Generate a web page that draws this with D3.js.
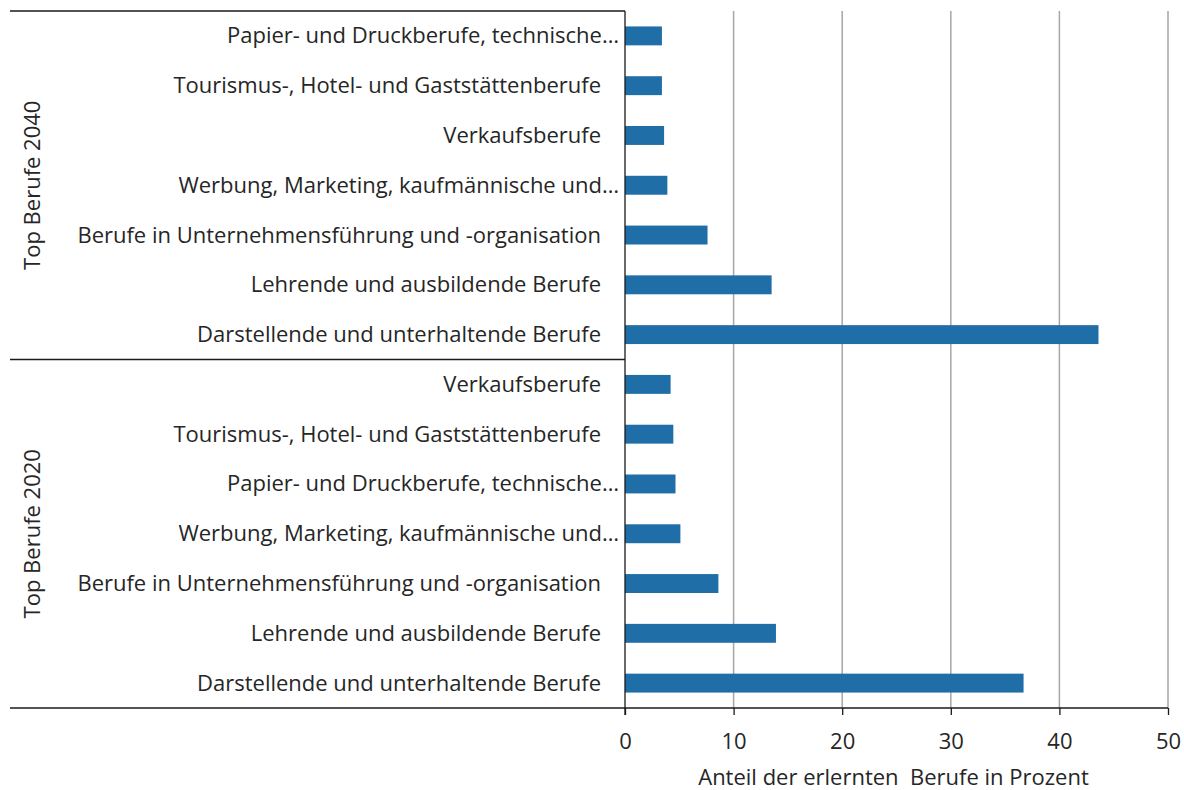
<!DOCTYPE html>
<html><head><meta charset="utf-8">
<script src="https://cdn.jsdelivr.net/npm/d3@7"></script>
<style>body{margin:0;background:#fff;} svg{display:block;} text{white-space:pre;}</style>
</head><body>
<svg id="c" width="1184" height="790"></svg>
<script>
const groups = ["Top Berufe 2040", "Top Berufe 2020"];
const labels2040 = ["Papier- und Druckberufe, technische…","Tourismus-, Hotel- und Gaststättenberufe","Verkaufsberufe","Werbung, Marketing, kaufmännische und…","Berufe in Unternehmensführung und -organisation","Lehrende und ausbildende Berufe","Darstellende und unterhaltende Berufe"];
const values2040 = [3.4, 3.4, 3.6, 3.9, 7.6, 13.5, 43.6];
const labels2020 = ["Verkaufsberufe","Tourismus-, Hotel- und Gaststättenberufe","Papier- und Druckberufe, technische…","Werbung, Marketing, kaufmännische und…","Berufe in Unternehmensführung und -organisation","Lehrende und ausbildende Berufe","Darstellende und unterhaltende Berufe"];
const values2020 = [4.2, 4.45, 4.65, 5.1, 8.6, 13.9, 36.7];
const xTicks = [0, 10, 20, 30, 40, 50];
const xTitle = "Anteil der erlernten  Berufe in Prozent";

(function(){
const rows = [];
labels2040.forEach((l,i)=>rows.push({g:0,label:l,value:values2040[i],key:"a"+i}));
labels2020.forEach((l,i)=>rows.push({g:1,label:l,value:values2020[i],key:"b"+i}));

const svg = d3.select("#c");
const pLeft = 625, pRight = 1168, pTop = 11, pBottom = 708, outerLeft = 10;
const font = "'Open Sans', 'Noto Sans', sans-serif";
const fs = "22px";
const textColor = "#262626";

const x = d3.scaleLinear().domain([0,50]).range([pLeft,pRight]);
const y = d3.scaleBand().domain(rows.map(r=>r.key)).range([pTop,pBottom]).paddingInner(0.62).paddingOuter(0.31);

svg.append("g").selectAll("line").data(xTicks.filter(t=>t>0)).join("line")
  .attr("x1",d=>x(d)).attr("x2",d=>x(d)).attr("y1",pTop).attr("y2",pBottom)
  .attr("stroke","#a6a6a6").attr("stroke-width",1.5);

svg.append("g").selectAll("rect").data(rows).join("rect")
  .attr("x",x(0)).attr("y",d=>y(d.key)).attr("width",d=>x(d.value)-x(0)).attr("height",y.bandwidth())
  .attr("fill","#1f6ea7");

svg.append("g").selectAll("text").data(rows).join("text")
  .attr("x",d=>d.label.endsWith("…")?619:601)
  .attr("y",d=>y(d.key)+y.bandwidth()/2)
  .attr("dy","0.34em").attr("text-anchor","end")
  .style("font-family",font).style("font-size",fs).attr("fill",textColor)
  .text(d=>d.label);

const groupBoundary = (y(rows[6].key)+y.bandwidth() + y(rows[7].key))/2;
const lines = [
  [outerLeft, pTop, pLeft, pTop],
  [outerLeft, groupBoundary, pLeft, groupBoundary],
  [outerLeft, pBottom, pRight, pBottom],
  [pLeft, pTop, pLeft, pBottom+7]
];
svg.append("g").selectAll("line").data(lines).join("line")
  .attr("x1",d=>d[0]).attr("y1",d=>d[1]).attr("x2",d=>d[2]).attr("y2",d=>d[3])
  .attr("stroke","#1a1a1a").attr("stroke-width",1.3);

const ax = svg.append("g").attr("transform",`translate(0,${pBottom})`)
  .call(d3.axisBottom(x).tickValues(xTicks).tickSize(7).tickPadding(18).tickFormat(d3.format("d")));
ax.select(".domain").remove();
ax.selectAll(".tick line").attr("stroke","#1a1a1a").attr("stroke-width",1.3);
ax.selectAll(".tick text").style("font-family",font).style("font-size",fs).attr("fill",textColor);

svg.append("text").attr("x",(pLeft+pRight)/2 - 3).attr("y",785)
  .attr("text-anchor","middle").style("font-family",font).style("font-size",fs).attr("fill",textColor)
  .text(xTitle);

const gCenters = [(pTop+groupBoundary)/2, (groupBoundary+pBottom)/2];
svg.append("g").selectAll("text").data(groups).join("text")
  .attr("transform",(d,i)=>`translate(33,${gCenters[i]}) rotate(-90)`)
  .attr("text-anchor","middle").attr("dy","0.34em")
  .style("font-family",font).style("font-size",fs).attr("fill",textColor)
  .text(d=>d);
})();
</script>
</body></html>
